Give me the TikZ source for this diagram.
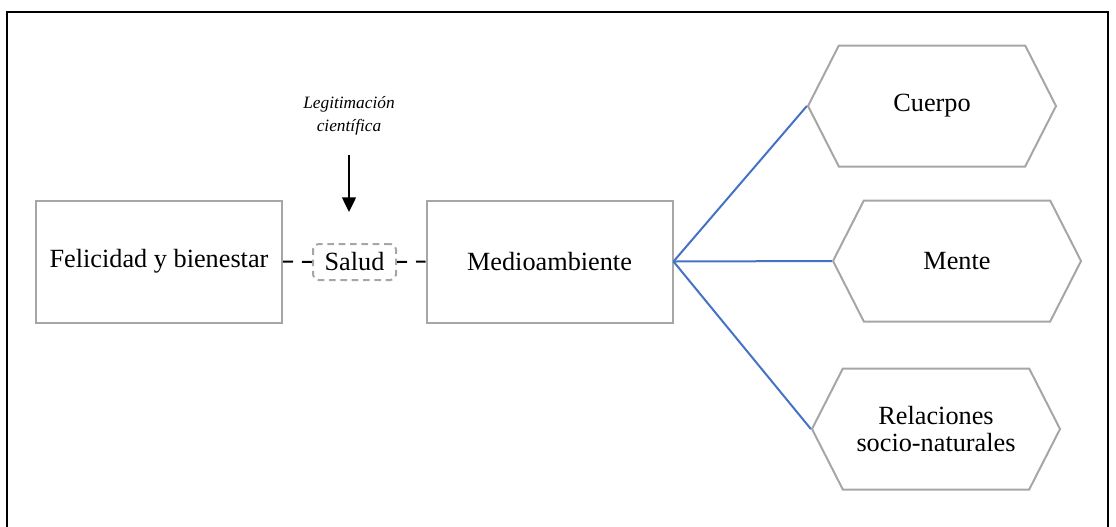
\documentclass[tikz,border=0pt]{standalone}
\usepackage{fontspec}
\setmainfont{Liberation Serif}
\usetikzlibrary{shapes.symbols,arrows.meta}

\definecolor{boxgray}{RGB}{166,166,166}
\definecolor{linkblue}{RGB}{68,114,196}

\tikzset{
  mainfont/.style={font=\fontsize{19.7}{20.5}\selectfont},
  conceptbox/.style={draw=boxgray,line width=1.5pt,inner sep=0pt,
    minimum width=184.5pt,minimum height=91.5pt,mainfont},
  hexbox/.style={draw=boxgray,line width=1.5pt,inner sep=0pt,
    shape=signal,signal from=nowhere,signal to=west and east,signal pointer angle=126,
    minimum width=186pt,minimum height=90.75pt,align=center,mainfont},
  dashlink/.style={black,line width=1.5pt,dash pattern=on 7.5pt off 6.75pt},
  bluelink/.style={linkblue,line width=1.5pt},
}

\begin{document}
\begin{tikzpicture}[x=0.75pt,y=0.75pt,yscale=-1,xscale=1]

\useasboundingbox (0,0) rectangle (1116,526);

%Frame
\draw [line width=1.5pt] (7,540) -- (7,12) -- (1108,12) -- (1108,540) ;

%Left chain
\node [conceptbox] (felicidad) at (159,261.5) {Felicidad y bienestar};
\node [draw=boxgray,line width=1.5pt,rounded corners=4pt,dash pattern=on 5pt off 3.5pt,
  minimum width=62.25pt,minimum height=27pt,inner sep=0pt,mainfont] (salud) at (354.5,262) {Salud};
\node [conceptbox] (medio) at (549.5,261.5) {Medioambiente};

\draw [dashlink] (felicidad.east) -- (salud.west) ;
\draw [dashlink] (salud.east) -- (medio.west) ;

%Legitimation arrow
\node [font=\itshape\fontsize{13}{17}\selectfont,align=center,inner sep=0pt] (legit) at (349,116) {Legitimación\\científica};
\coordinate (arrtop) at (349,155);
\coordinate (arrtip) at (349,212);
\draw [line width=1pt,-{Triangle[width=10.5pt,length=11pt]}] (arrtop) -- (arrtip) ;

%Hexagons
\node [hexbox] (cuerpo) at (932,106) {Cuerpo};
\node [hexbox] (mente) at (957,261) {Mente};
\node [hexbox] (relaciones) at (936,429) {Relaciones\\socio-naturales};

\draw [bluelink] (medio.east) -- (cuerpo.west) ;
\draw [bluelink] (medio.east) -- (mente.west) ;
\draw [bluelink] (medio.east) -- (relaciones.west) ;

\end{tikzpicture}
\end{document}
